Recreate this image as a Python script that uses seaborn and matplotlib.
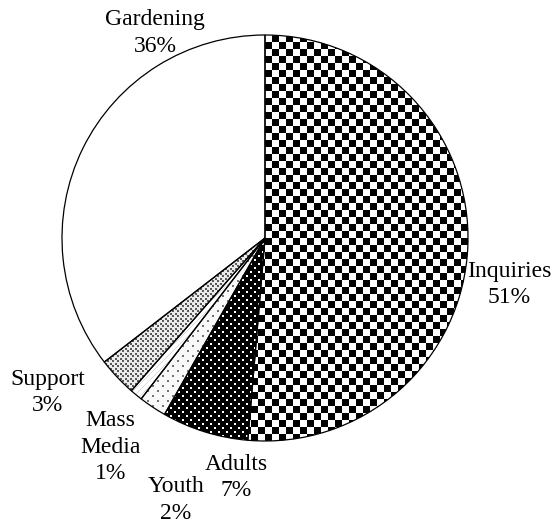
import numpy as np
import seaborn as sns
import matplotlib.pyplot as plt

# slice data, clockwise from 12 o'clock
categories = ['Inquiries', 'Adults', 'Youth', 'Mass\nMedia', 'Support', 'Gardening']
shares = [51.4, 6.9, 2.2, 1.0, 3.1, 35.5]

# label centres (axes data units, pie radius = 1)
label_pos = [(1.205, -0.23), (-0.14, -1.18), (-0.44, -1.29),
             (-0.76, -1.03), (-1.07, -0.76), (-0.54, 1.01)]

sns.set_style('white')
plt.rcParams['font.family'] = ['Liberation Serif', 'DejaVu Serif']

W, H = 560, 527
N = 406  # pie diameter in pixels
fig = plt.figure(figsize=(W / 100, H / 100), dpi=100)
ax = fig.add_axes([62 / W, 86 / H, N / W, N / H])

wedges, _ = ax.pie(shares, startangle=90, counterclock=False, radius=1,
                   wedgeprops=dict(facecolor='none', edgecolor='black',
                                   linewidth=0.9, zorder=3))
ax.set_xlim(-1, 1)
ax.set_ylim(-1, 1)
ax.set_aspect('equal')
ax.axis('off')

# pixel textures for each slice
yy, xx = np.mgrid[0:N, 0:N]


def dots(period, size, bg, fg):
    t = np.full((N, N), bg, dtype=float)
    a = (xx % period < size) & (yy % period < size)
    h = period // 2
    b = ((xx + h) % period < size) & ((yy + h) % period < size)
    t[a | b] = fg
    return t


checker = np.where(((xx // 7) + (yy // 7)) % 2 == 0, 0.0, 1.0)
adults = dots(8, 2, 0.0, 1.0)
youth = dots(10, 2, 0.97, 0.45)
media = np.where((xx + yy) % 6 == 0, 0.85, 1.0)
support = dots(5, 2, 0.92, 0.35)
garden = np.ones((N, N))
textures = [checker, adults, youth, media, support, garden]

for w, tex in zip(wedges, textures):
    im = ax.imshow(tex, cmap='gray', vmin=0, vmax=1, extent=(-1, 1, -1, 1),
                   interpolation='nearest', zorder=1)
    im.set_clip_path(w)

for name, v, (x, y) in zip(categories, shares, label_pos):
    ax.text(x, y, f"{name}\n{v:.0f}%", ha='center', va='center',
            fontsize=17, linespacing=1.34, color='black')

fig.savefig('out.png', dpi=100, facecolor='white')
